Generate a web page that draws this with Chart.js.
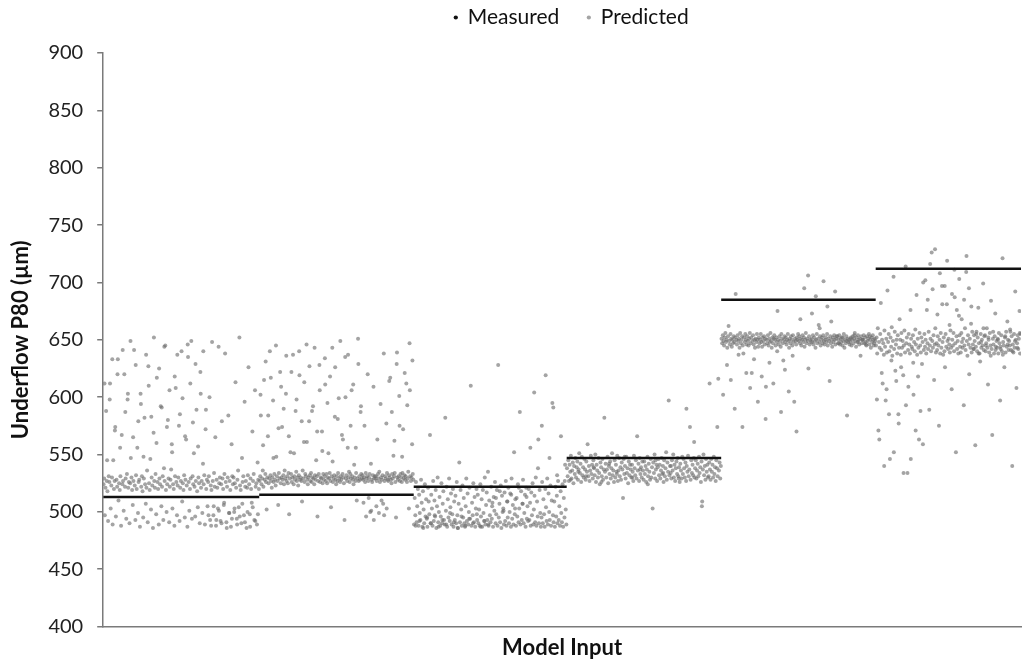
<!DOCTYPE html>
<html>
<head>
<meta charset="utf-8">
<title>Underflow P80 — measured vs predicted</title>
<script src="https://cdn.jsdelivr.net/npm/chart.js@4/dist/chart.umd.min.js"></script>
<style>
  html, body { margin: 0; padding: 0; background: #fff; }
  #wrap { width: 1025px; height: 662px; }
</style>
</head>
<body>
<div id="wrap"><canvas id="grafico"></canvas></div>
<script>
// --- Data ---
// x is the sample position; each model input block covers one segment.
const segmentEdges = [0, 1.02, 2.03, 3.03, 4.04, 5.05, 6.0];
const measuredValues = [513, 515, 522, 547, 685, 712];

const yTicks = { min: 400, max: 900, step: 50 };

// Predicted P80 per segment, in sample order
const predictedSeg1 = [
  524,529,497,521,588,527,518,492,531,526,612,503,523,530,489,545,520,527,574,496,
  528,522,633,510,525,519,531,488,567,524,527,501,620,522,529,494,533,598,521,526,
  490,525,547,530,519,506,527,641,523,493,532,520,556,499,526,528,487,603,522,531,
  518,495,529,582,524,507,521,536,491,627,525,519,546,502,530,523,486,569,527,521,
  533,498,617,526,520,489,529,524,592,505,522,531,493,538,527,645,519,500,524,580,
  529,491,522,528,537,559,503,524,520,488,531,608,526,497,523,530,575,492,521,527,
  640,509,525,519,532,495,528,563,523,487,635,526,501,520,529,649,494,531,524,551,
  522,496,527,589,518,504,530,525,490,622,521,527,499,542,524,532,489,572,520,528,
  505,526,531,600,493,523,519,648,527,497,534,522,565,488,528,521,503,644,525,530,
  492,524,579,529,520,506,533,638,526,491,522,530,584,499,527,519,487,559,531,524,
  530,500,525,613,521,494,528,536,504,652,523,519,490,547,526,531,497,596,522,527,
  486,521,532,626,524,498,529,520,508,570,527,533,493,606,522,525,489,543,528,520
];
const predictedSeg2 = [
  527,531,584,524,529,536,522,615,528,533,526,502,530,566,525,529,640,532,527,521,
  530,597,526,533,528,523,548,531,527,506,534,529,622,525,530,574,528,532,524,536,
  529,603,527,531,525,534,498,529,552,533,526,530,637,524,531,528,588,535,527,530,
  523,532,619,528,530,527,509,536,529,561,526,533,531,646,528,524,530,579,532,527,
  534,526,530,592,529,524,532,528,545,531,496,527,533,628,526,530,529,570,525,533,
  528,531,611,527,533,525,530,551,529,534,527,504,531,643,526,529,532,583,528,524,
  531,527,534,599,529,526,531,528,567,533,530,525,493,635,529,532,527,556,530,535,
  526,533,529,606,531,528,524,541,530,527,534,510,529,651,527,531,528,587,533,529,
  532,528,530,575,526,534,529,531,620,527,530,533,500,542,528,526,532,609,529,531,
  529,531,527,563,533,529,535,526,594,530,528,532,507,638,527,531,529,577,534,528,
  527,532,530,617,528,525,533,529,549,531,534,526,495,629,530,528,531,601,527,533,
  530,526,534,572,529,532,528,531,612,526,529,535,503,647,531,527,530,559,533,528
];
const predictedSeg3 = [
  489,512,497,526,491,505,520,488,515,499,493,528,508,487,518,502,490,524,496,511,
  494,487,521,509,498,567,490,515,503,488,527,492,510,496,519,486,505,530,491,500,
  513,488,496,525,490,507,518,493,489,582,501,522,487,511,495,529,492,504,516,489,
  498,520,487,509,493,514,490,526,497,486,507,543,491,519,502,488,523,495,512,490,
  487,505,529,492,516,489,500,521,494,610,488,508,497,525,491,513,487,503,520,493,
  515,490,502,488,524,496,511,487,519,499,492,530,489,506,517,493,535,488,510,497,
  491,522,494,508,487,513,501,526,490,498,519,488,628,495,507,491,523,486,514,500,
  503,489,517,492,527,488,509,495,521,490,500,516,487,529,494,506,489,552,498,511,
  488,512,496,524,491,503,587,489,518,493,507,528,490,499,515,487,521,494,505,492,
  520,493,508,488,517,497,525,489,502,514,491,530,488,509,496,563,490,519,499,487,
  495,526,490,511,498,487,520,504,492,529,489,516,500,493,523,488,510,595,497,491,
  509,487,522,496,514,490,527,493,505,488,518,499,491,524,487,512,495,541,502,489
];
const predictedSeg4 = [
  538,531,545,527,541,535,549,529,536,543,525,540,533,547,530,539,544,528,537,551,
  534,542,526,548,532,539,530,546,537,528,544,535,559,531,540,527,536,549,533,541,
  529,545,538,532,550,526,541,536,530,547,534,524,543,539,531,546,528,537,582,535,
  542,530,537,548,525,540,533,544,529,538,551,532,536,526,545,530,541,535,549,527,
  536,547,531,539,528,543,537,512,546,533,540,529,548,534,538,525,544,532,541,537,
  530,541,535,527,549,538,532,545,529,566,536,542,527,547,533,539,530,544,536,528,
  544,533,540,526,537,548,531,542,535,528,546,530,539,503,543,534,550,529,537,541,
  527,539,546,532,541,529,536,547,533,540,526,545,531,538,552,528,543,535,597,532,
  540,534,529,545,536,550,530,541,527,538,544,533,547,531,539,526,542,536,529,548,
  533,546,538,530,543,527,540,535,549,531,537,574,528,545,534,541,532,547,530,538,
  545,529,536,542,531,548,534,539,526,544,509,537,550,532,540,528,546,535,541,530,
  531,543,537,528,546,535,541,530,548,533,539,527,545,538,531,616,536,543,529,540
];
const predictedSeg5 = [
  651,647,654,649,645,652,656,648,650,643,653,662,649,646,655,651,644,650,647,653,
  648,652,690,650,646,654,649,651,643,656,647,650,653,645,638,652,648,655,650,646,
  653,649,645,651,656,647,652,621,649,654,646,650,643,651,648,655,650,644,652,647,
  650,655,648,644,652,649,653,646,651,609,650,647,654,645,651,648,656,649,643,652,
  647,651,654,650,645,652,648,675,650,646,653,649,644,655,651,647,632,650,653,648,
  652,646,650,655,649,643,651,647,653,650,645,654,648,596,651,649,646,652,650,655,
  649,653,647,651,645,650,654,648,652,644,650,656,647,651,649,625,653,646,650,648,
  651,648,654,646,652,649,643,650,655,647,651,663,648,653,645,650,652,647,654,649,
  646,650,652,648,655,645,651,649,614,653,647,650,644,652,648,654,650,646,651,653,
  653,647,650,654,646,651,648,652,645,649,655,643,650,647,653,584,651,648,650,646,
  648,652,645,650,653,647,651,656,649,644,652,648,654,650,646,651,636,653,647,650,
  650,654,647,652,648,645,653,649,651,655,646,650,643,652,648,654,650,647,651,649
];
const predictedSeg6 = [
  645,652,638,660,571,648,643,655,682,641,650,612,647,637,658,644,597,651,639,693,
  648,655,640,546,652,644,661,636,649,705,642,657,623,646,650,638,654,585,643,668,
  650,637,656,643,649,619,645,658,639,714,647,652,534,641,655,646,638,676,651,644,
  642,654,602,648,640,659,646,689,637,651,643,563,656,645,639,652,629,648,700,641,
  655,644,650,638,676,647,642,657,589,645,651,640,726,649,643,654,615,646,660,639,
  647,641,653,645,575,650,638,656,643,697,648,637,652,640,626,655,644,681,649,642,
  651,646,639,658,643,607,650,645,656,640,687,647,552,653,642,649,638,671,654,644,
  639,656,648,643,651,593,645,660,641,709,649,636,654,646,620,651,643,664,639,657,
  646,642,654,649,558,644,657,640,652,678,647,638,631,655,643,650,645,699,641,653,
  654,640,647,660,643,611,650,639,656,645,684,642,567,651,646,638,653,673,644,649,
  643,651,638,656,647,597,642,654,640,721,648,645,626,652,639,657,644,666,650,641,
  649,645,657,641,653,540,646,639,655,643,692,650,608,647,654,642,651,675,638,655
];

// A second pass of samples per block (the scattered ones off the main band)
const spreadSeg1 = [
  612,545,598,633,571,620,556,641,587,603,649,565,628,579,594,548,637,610,583,652,
  560,625,591,644,574,606,552,618,637,585,599,566,646,612,578,629,557,603,640,589,
  497,488,505,493,501,490,508,486,499,494,503,489,496,507,491,500,487,504,492,498
];
const spreadSeg2 = [
  602,558,631,584,617,547,645,573,609,590,636,566,622,551,598,640,579,613,561,627,
  588,643,570,606,553,634,595,618,544,626,581,649,563,600,637,575,611,556,629,592,
  508,496,512,501,493,505,499,510,497,503,614,587,562,639,575,548,621,593,606,632
];
const spreadSeg3 = [
  488,492,486,495,490,497,487,493,489,499,491,486,496,488,494,490,498,487,492,489,
  505,512,518,501,509,515,503,521,507,513,556,604,538,575,619,547,591,532,566,527
];
const spreadSeg4 = [
  528,535,531,539,526,542,533,548,530,537,524,545,534,540,529,590,561,505,612,574
];
const spreadSeg5 = [
  602,628,615,590,637,574,621,608,633,596,618,581,630,612,640,587,624,605,636,570,
  668,695,706,673,688,660,701,679,666,692,647,652,649,651,654,648,650,646,653,645
];
const spreadSeg6 = [
  598,563,621,540,607,585,632,552,614,577,626,534,593,609,546,630,571,618,588,559,
  702,685,716,694,729,672,708,681,697,719,663,690,711,676,703,668,685,723,695,679,
  642,655,638,648,660,645,652,636,657,641,650,644,637,653,646,659,640,649,643,656
];

const predictedSegments = [predictedSeg1, predictedSeg2, predictedSeg3, predictedSeg4, predictedSeg5, predictedSeg6];
const spreadSegments = [spreadSeg1, spreadSeg2, spreadSeg3, spreadSeg4, spreadSeg5, spreadSeg6];

// --- Build point lists for the library ---
function spreadOver(lists, pts) {
  lists.forEach((values, s) => {
    const start = segmentEdges[s];
    const width = segmentEdges[s + 1] - start;
    values.forEach((v, i) => pts.push({ x: start + (i + 0.5) * width / values.length, y: v }));
  });
  return pts;
}

function predictedPoints() {
  const pts = [];
  spreadOver(predictedSegments, pts);
  spreadOver(spreadSegments, pts);
  return pts;
}

function measuredPoints() {
  const pts = [];
  measuredValues.forEach((v, s) => {
    pts.push({ x: segmentEdges[s], y: v });
    pts.push({ x: segmentEdges[s + 1], y: v });
    pts.push({ x: segmentEdges[s + 1], y: null }); // break between blocks
  });
  return pts;
}

const fontFamily = 'Lato, "Open Sans", sans-serif';
const axisGray = '#7a7a7a';

// Legend sits a little right of centre and close to the top in the original
const legendShift = {
  id: 'legendShift',
  afterLayout(chart) {
    const lg = chart.legend;
    if (!lg) return;
    lg.left += 59; lg.right += 59;
    lg.top -= 33; // bottom stays put so the legend clip box still covers the text
  },
};

new Chart(document.getElementById('grafico'), {
  type: 'scatter',
  data: {
    datasets: [
      {
        label: 'Measured',
        type: 'line',
        data: measuredPoints(),
        borderColor: '#111',
        backgroundColor: '#111',
        borderWidth: 2.5,
        pointRadius: 0,
        spanGaps: false,
        order: 0,
      },
      {
        label: 'Predicted',
        data: predictedPoints(),
        backgroundColor: 'rgba(108,108,108,0.62)',
        borderWidth: 0,
        pointRadius: 2,
        order: 1,
      },
    ],
  },
  options: {
    responsive: true,
    maintainAspectRatio: false,
    animation: false,
    layout: { padding: { top: 12, right: 0, left: 0, bottom: 0 } },
    plugins: {
      tooltip: { enabled: false },
      legend: {
        position: 'top',
        maxHeight: 41,
        labels: {
          usePointStyle: true,
          pointStyle: 'circle',
          boxWidth: 3,
          boxHeight: 3,
          padding: 28,
          color: '#111',
          font: { family: fontFamily, size: 21 },
          generateLabels(chart) {
            const items = Chart.defaults.plugins.legend.labels.generateLabels(chart);
            items.forEach((it) => { it.lineWidth = 0; });
            return items;
          },
        },
      },
    },
    scales: {
      x: {
        type: 'linear',
        min: segmentEdges[0],
        max: segmentEdges[segmentEdges.length - 1],
        ticks: { display: false },
        grid: { display: false, drawTicks: false },
        border: { display: true, color: axisGray, width: 1.5 },
        title: {
          display: true,
          text: 'Model Input',
          color: '#111',
          font: { family: fontFamily, size: 22, weight: 'bold' },
          padding: { top: 8, bottom: 1 },
        },
      },
      y: {
        min: yTicks.min,
        max: yTicks.max,
        ticks: { stepSize: yTicks.step, color: '#222', padding: 14, font: { family: fontFamily, size: 20 } },
        grid: { drawOnChartArea: false, drawTicks: true, tickLength: 6, color: axisGray, lineWidth: 1.5 },
        border: { display: true, color: axisGray, width: 1.5 },
        title: {
          display: true,
          text: 'Underflow P80 (µm)',
          color: '#111',
          font: { family: fontFamily, size: 22, weight: 'bold' },
          padding: { top: 8, bottom: 0 },
        },
      },
    },
  },
  plugins: [legendShift],
});
</script>
</body>
</html>
